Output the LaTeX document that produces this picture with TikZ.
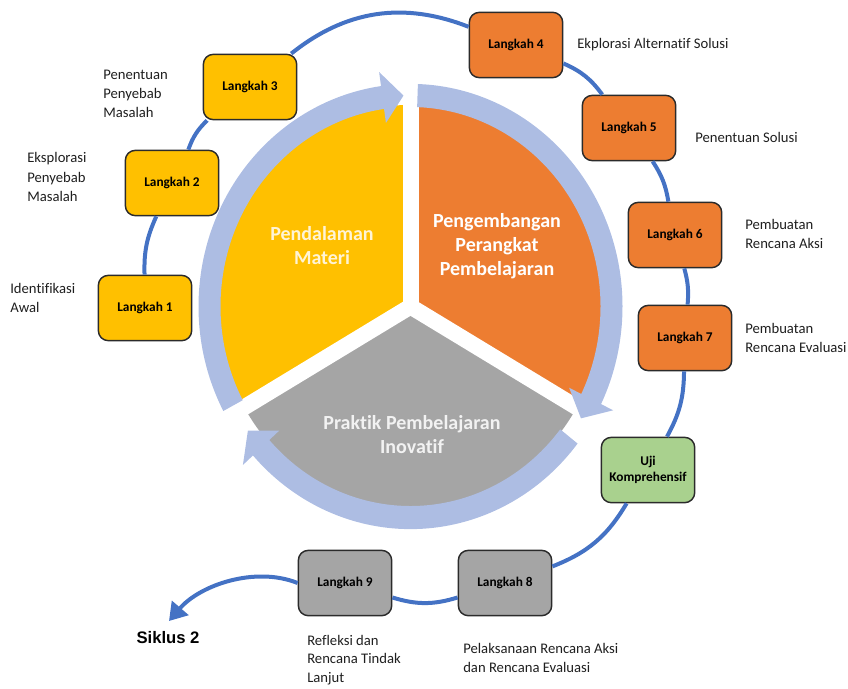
\documentclass[tikz,border=0pt]{standalone}
\usepackage{fontspec}
\setmainfont{Carlito}[Ligatures={NoCommon,NoContextual}]
\newfontfamily\arialfont{Liberation Sans}
\usetikzlibrary{arrows.meta}
\definecolor{gold}{HTML}{FFC000}
\definecolor{tangerine}{HTML}{ED7D31}
\definecolor{stone}{HTML}{A5A5A5}
\definecolor{sage}{HTML}{A9D18E}
\definecolor{ringblue}{HTML}{ADBDE3}
\definecolor{linkblue}{HTML}{4472C4}
\definecolor{edge}{HTML}{2B2B2B}
\definecolor{notetext}{HTML}{1F1F1F}
\definecolor{cream}{HTML}{FFF4D6}

\begin{document}
\begin{tikzpicture}[x=0.75pt,y=0.75pt,
  stepbox/.style={draw=edge, line width=1.1pt, rounded corners=7.5pt,
    minimum width=70pt, minimum height=49pt, align=center,
    font=\bfseries\fontsize{10}{11.5}\selectfont, text=black},
  note/.style={anchor=west, align=left, inner sep=0pt,
    font=\fontsize{11}{14.3}\selectfont, text=notetext},
  conn/.style={draw=linkblue, line width=3pt},
  pielabel/.style={align=center, font=\bfseries\fontsize{15}{18}\selectfont}]
\useasboundingbox (0,0) rectangle (848,-688);

% three sectors, the white gaps between them and the circular arrows
\begin{scope}[shift={(410.5,-306.5)}, yscale=1.05]
  \fill[gold] (0,0) -- (90:192) arc[start angle=90,end angle=210,radius=192] -- cycle;
  \fill[tangerine] (0,0) -- (-30:192) arc[start angle=-30,end angle=90,radius=192] -- cycle;
  \fill[stone] (0,0) -- (210:192) arc[start angle=210,end angle=330,radius=192] -- cycle;
  \foreach \a in {90,210,330} \draw[white, line width=12pt] (0,0) -- (\a:196);
  \foreach \t/\h in {208/92, 88/-32, -38/-144} {
    \pgfmathsetmacro{\b}{\h+6}
    \fill[ringblue] (\t:212) arc[start angle=\t, end angle=\b, radius=212]
      -- (\b:225.5) -- (\h:201) -- (\b:176.5) -- (\b:190)
      arc[start angle=\b, end angle=\t, radius=190] -- cycle;
  }
\end{scope}

% sector titles
\node[pielabel, text=cream] (tmateri) at (322,-246) {Pendalaman\\Materi};
\node[pielabel, text=white] (tperangkat) at (497,-246) {Pengembangan\\Perangkat\\Pembelajaran};
\node[pielabel, text=white!95!black] (tpraktik) at (412,-435) {Praktik Pembelajaran\\Inovatif};

% steps of the cycle
\node[stepbox, fill=gold] (L1) at (145,-308) {Langkah 1};
\node[stepbox, fill=gold] (L2) at (172,-183) {Langkah 2};
\node[stepbox, fill=gold] (L3) at (250,-87) {Langkah 3};
\node[stepbox, fill=tangerine] (L4) at (516,-45) {Langkah 4};
\node[stepbox, fill=tangerine] (L5) at (629,-128) {Langkah 5};
\node[stepbox, fill=tangerine] (L6) at (675,-235) {Langkah 6};
\node[stepbox, fill=tangerine] (L7) at (685,-338) {Langkah 7};
\node[stepbox, fill=sage] (UK) at (648,-470) {Uji\\Komprehensif};
\node[stepbox, fill=stone] (L8) at (505,-583) {Langkah 8};
\node[stepbox, fill=stone] (L9) at (345,-583) {Langkah 9};

% links along the outer circle
\draw[conn] (L1) to[bend left=13] (L2);
\draw[conn] (L2) to[bend left=13] (L3);
\draw[conn] (L3) to[bend left=30] (L4);
\draw[conn] (L4) to[bend left=15] (L5);
\draw[conn] (L5) to[bend left=12] (L6);
\draw[conn] (L6) to[bend left=10] (L7);
\draw[conn] (L7) to[bend left=14] (UK);
\draw[conn] (UK) to[bend left=19] (L8);
\draw[conn] (L8) to[bend left=17] (L9);

% exit to the next cycle
\coordinate (siktip) at (169,-621);
\draw[conn, -{Triangle[length=13pt,width=16pt]}] (L9.west) .. controls (255,-566) and (200,-585) .. (siktip);
\node[font=\arialfont\bfseries\fontsize{12.5}{14}\selectfont] (siklus) at (168,-638) {Siklus 2};

% step descriptions
\node[note] (d3) at (103,-94) {Penentuan\\Penyebab\\Masalah};
\node[note] (d2) at (27,-177) {Eksplorasi\\Penyebab\\Masalah};
\node[note] (d1) at (10,-298) {Identifikasi\\Awal};
\node[note] (d4) at (577,-45) {Ekplorasi Alternatif Solusi};
\node[note] (d5) at (695,-137) {Penentuan Solusi};
\node[note] (d6) at (745,-234) {Pembuatan\\Rencana Aksi};
\node[note] (d7) at (745,-338) {Pembuatan\\Rencana Evaluasi};
\node[note] (d8) at (463,-658) {Pelaksanaan Rencana Aksi\\dan Rencana Evaluasi};
\node[note, font=\fontsize{11}{14}\selectfont] (d9) at (307,-660) {Refleksi dan\\Rencana Tindak\\Lanjut};
\end{tikzpicture}
\end{document}
